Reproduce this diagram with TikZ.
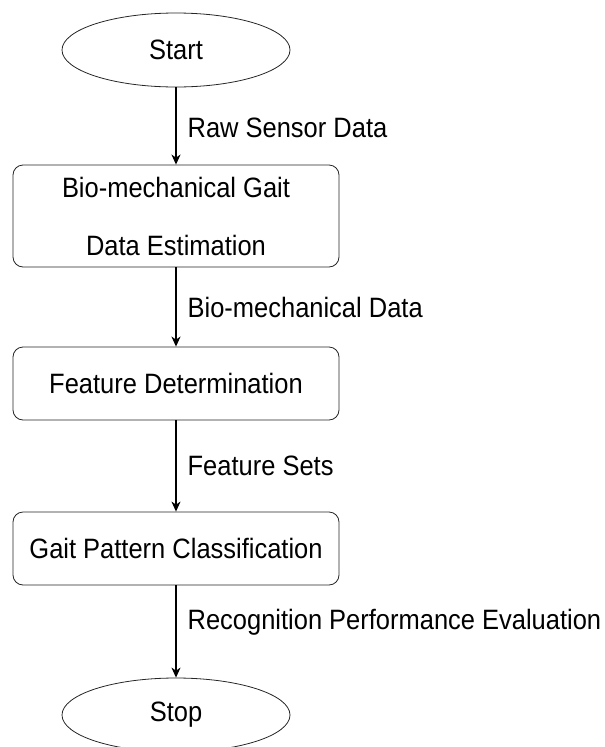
\documentclass[tikz,border=0pt]{standalone}
\usepackage{fontspec}
\setmainfont{Liberation Sans}[FakeStretch=0.91]
\usetikzlibrary{shapes.geometric,arrows.meta}

\tikzset{
  txt/.style={font=\fontsize{28}{32}\selectfont},
  terminal/.style={txt, ellipse, draw=black!85, line width=0.8pt, minimum width=228pt,
    minimum height=74pt, inner sep=0pt},
  stepbox/.style={txt, rectangle, rounded corners=10pt, draw=black!85, line width=0.8pt,
    minimum width=326pt, inner sep=0pt, align=center},
  flow/.style={line width=1.3pt, -{Stealth[length=10pt,width=9pt,inset=3pt]}},
  flowlabel/.style={txt, right, inner sep=0pt, xshift=11pt}
}

\begin{document}
\begin{tikzpicture}[x=1pt,y=-1pt]
  \useasboundingbox (0,0) rectangle (605,747);

  \node[terminal] (start) at (176,50) {Start};
  \node[stepbox, minimum height=102pt] (est) at (176,216)
    {Bio-mechanical Gait\\[26pt]Data Estimation};
  \node[stepbox, minimum height=73pt] (feat) at (176,383.5) {Feature Determination};
  \node[stepbox, minimum height=73pt] (cls) at (176,548.5) {Gait Pattern Classification};
  \node[terminal] (stop) at (176,715) {Stop};

  \draw[flow] (start) -- (est) node[flowlabel, pos=0.53] {Raw Sensor Data};
  \draw[flow] (est) -- (feat) node[flowlabel, pos=0.5] {Bio-mechanical Data};
  \draw[flow] (feat) -- (cls) node[flowlabel, pos=0.5] {Feature Sets};
  \draw[flow] (cls) -- (stop) node[flowlabel, pos=0.4] {Recognition Performance Evaluation};
\end{tikzpicture}
\end{document}
